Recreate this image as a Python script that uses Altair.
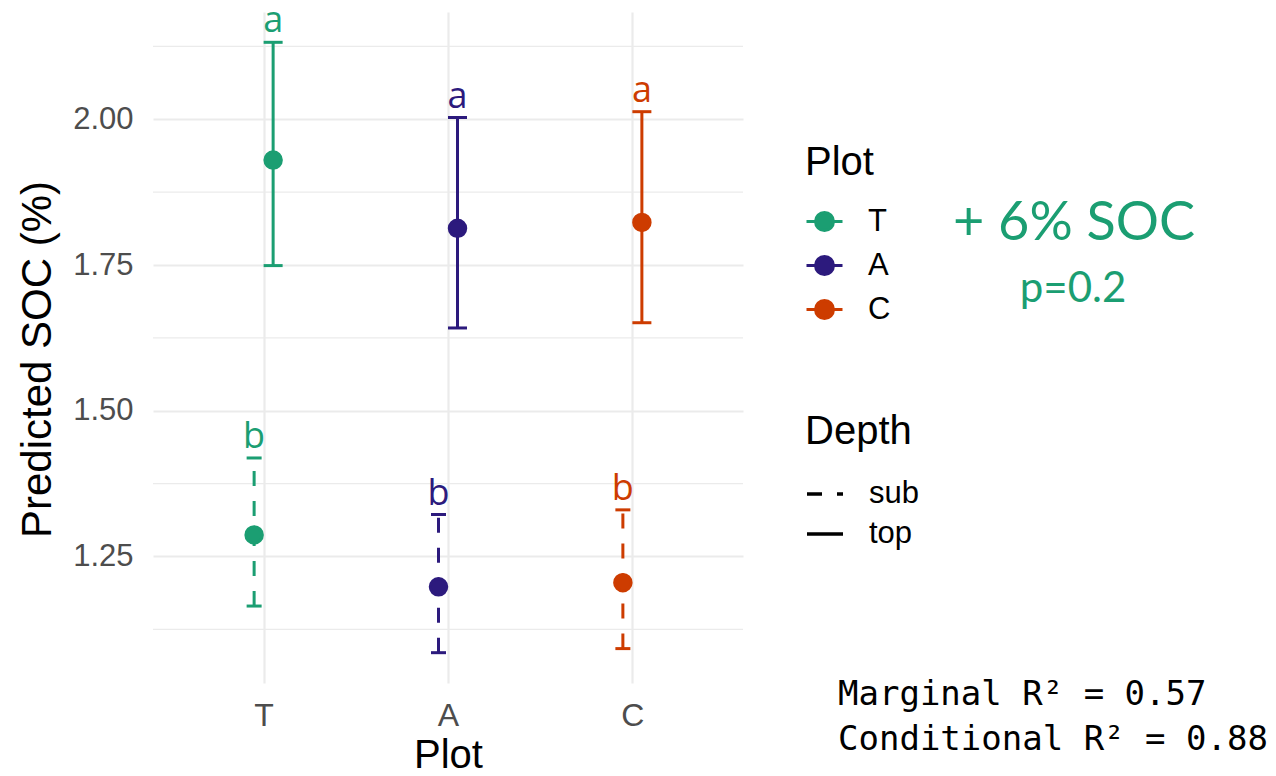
import altair as alt
import pandas as pd

# ---- data ----
plots = ["T", "A", "C", "T", "A", "C"]
depths = ["top", "top", "top", "sub", "sub", "sub"]
predicted = [1.930, 1.813, 1.823, 1.287, 1.198, 1.205]
lower = [1.749, 1.642, 1.651, 1.165, 1.085, 1.092]
upper = [2.132, 2.003, 2.013, 1.419, 1.322, 1.330]
letters = ["a", "a", "a", "b", "b", "b"]

plot_order = ["T", "A", "C"]
depth_order = ["sub", "top"]
plot_colors = ["#1b9e72", "#2c1a7d", "#cd3c00"]
y_major = [1.25, 1.50, 1.75, 2.00]
y_minor = [1.125, 1.375, 1.625, 1.875, 2.125]

note_effect = "+ 6% SOC"
note_p = "p=0.2"
note_r2 = ["Marginal R\u00b2 = 0.57", "Conditional R\u00b2 = 0.88"]

df = pd.DataFrame({
    "Plot": plots, "Depth": depths, "pred": predicted,
    "lo": lower, "hi": upper, "letter": letters,
})
minor_df = pd.DataFrame({"v": y_minor})

W, H = 590, 671
yscale = alt.Scale(domain=[1.033, 2.184], nice=False, zero=False)
xscale = alt.Scale(type="point", domain=plot_order, padding=0.6)
offscale = alt.Scale(type="point", domain=depth_order, range=[-9.5, 9.5], padding=0)
cscale = alt.Scale(domain=plot_order, range=plot_colors)

x_enc = alt.X("Plot:N", scale=xscale, sort=plot_order,
              axis=alt.Axis(title="Plot", labelAngle=0, grid=True, ticks=False, tickSize=0,
                            domain=False, labelFontSize=32, labelColor="#4d4d4d",
                            labelFont="Liberation Sans", labelBaseline="alphabetic",
                            labelPadding=42, titleFontSize=40, titleFont="Liberation Sans",
                            titleFontWeight="normal", titleColor="black",
                            titleBaseline="alphabetic", titleX=W / 2, titleY=84,
                            gridColor="#ebebeb", gridWidth=2.2))
xo_enc = alt.XOffset("Depth:N", scale=offscale)

y_axis = alt.Axis(values=y_major, format=".2f", title="Predicted SOC (%)",
                  grid=True, ticks=False, tickSize=0, domain=False,
                  labelFontSize=31, labelColor="#4d4d4d", labelFont="Liberation Sans",
                  labelPadding=20, titleFontSize=42, titleFont="Liberation Sans",
                  titleFontWeight="normal", titleColor="black",
                  titleBaseline="middle", titleX=-116, titleY=347,
                  gridColor="#ebebeb", gridWidth=2.2)

plot_legend = alt.Legend(
    title="Plot", orient="none", legendX=652, legendY=131,
    symbolType="M-1,0H1M-0.5,0A0.5,0.5,0,1,1,0.5,0A0.5,0.5,0,1,1,-0.5,0Z",
    symbolSize=1296, symbolStrokeWidth=3, symbolOpacity=1,
    titleFontSize=40, titleFont="Liberation Sans",
    titleFontWeight="normal", titleColor="black", labelFontSize=31,
    labelFont="Liberation Sans", labelColor="black", labelOffset=24, rowPadding=9,
    titlePadding=19, padding=0,
)
depth_legend = alt.Legend(
    title="Depth", orient="none", legendX=652, legendY=400,
    symbolType="stroke", symbolSize=1296, symbolStrokeWidth=3.5,
    symbolStrokeColor="black", titleFontSize=40,
    titleFont="Liberation Sans", titleFontWeight="normal",
    titleColor="black", labelFontSize=31, labelFont="Liberation Sans",
    labelColor="black", labelOffset=24, rowPadding=5,
    titlePadding=22, padding=0,
)

stroke_enc = alt.Stroke("Plot:N", scale=cscale, legend=plot_legend)
fill_enc = alt.Fill("Plot:N", scale=cscale, legend=plot_legend)

base = alt.Chart(df)

minor = alt.Chart(minor_df).mark_rule(color="#ebebeb", strokeWidth=1.2).encode(
    y=alt.Y("v:Q", scale=yscale, axis=y_axis)
)

bars = base.mark_rule(strokeWidth=3, opacity=1).encode(
    x=x_enc, xOffset=xo_enc,
    y=alt.Y("lo:Q", scale=yscale),
    y2="hi:Q",
    stroke=stroke_enc,
    strokeDash=alt.StrokeDash(
        "Depth:N",
        scale=alt.Scale(domain=depth_order, range=[[15, 15], [1, 0]]),
        legend=depth_legend,
    ),
)

points = base.mark_point(filled=True, size=272, strokeWidth=3, opacity=1, shape="circle").encode(
    x=x_enc, xOffset=xo_enc, y=alt.Y("pred:Q", scale=yscale),
    fill=fill_enc,
    stroke=stroke_enc,
)


def caps(field, depth, width):
    return base.transform_filter(alt.datum.Depth == depth).mark_tick(
        thickness=3, size=width, opacity=1
    ).encode(
        x=x_enc, xOffset=xo_enc, y=alt.Y(f"{field}:Q", scale=yscale),
        fill=fill_enc,
    )


labels = base.mark_text(font="Open Sans", fontSize=36, baseline="alphabetic", dy=-10,
                        opacity=1).encode(
    x=x_enc, xOffset=xo_enc, y=alt.Y("hi:Q", scale=yscale),
    text="letter:N",
    fill=fill_enc,
)

note1 = alt.Chart(pd.DataFrame({"t": [note_effect]})).mark_text(
    font="Lato", fontSize=54, color="#1b9e72", align="center", baseline="alphabetic"
).encode(x=alt.value(921), y=alt.value(228), text="t:N")
note2 = alt.Chart(pd.DataFrame({"t": [note_p]})).mark_text(
    font="Lato", fontSize=42, color="#1b9e72", align="center", baseline="alphabetic"
).encode(x=alt.value(920), y=alt.value(290), text="t:N")
note3 = alt.Chart(pd.DataFrame({"t": [note_r2[0]]})).mark_text(
    font="DejaVu Sans Mono", fontSize=34, color="black", align="left", baseline="alphabetic"
).encode(x=alt.value(685), y=alt.value(693), text="t:N")
note4 = alt.Chart(pd.DataFrame({"t": [note_r2[1]]})).mark_text(
    font="DejaVu Sans Mono", fontSize=34, color="black", align="left", baseline="alphabetic"
).encode(x=alt.value(685), y=alt.value(738), text="t:N")

chart = alt.layer(
    minor, bars, points,
    caps("hi", "top", 19), caps("lo", "top", 19),
    caps("hi", "sub", 15), caps("lo", "sub", 15),
    labels, note1, note2, note3, note4
).properties(
    width=W, height=H,
    autosize=alt.AutoSizeParams(type="none"),
    padding={"left": 145, "top": 4, "right": 525, "bottom": 85},
    background="white",
).configure_view(stroke=None)

chart.save("out.html", embed_options={"renderer": "svg", "actions": False})
